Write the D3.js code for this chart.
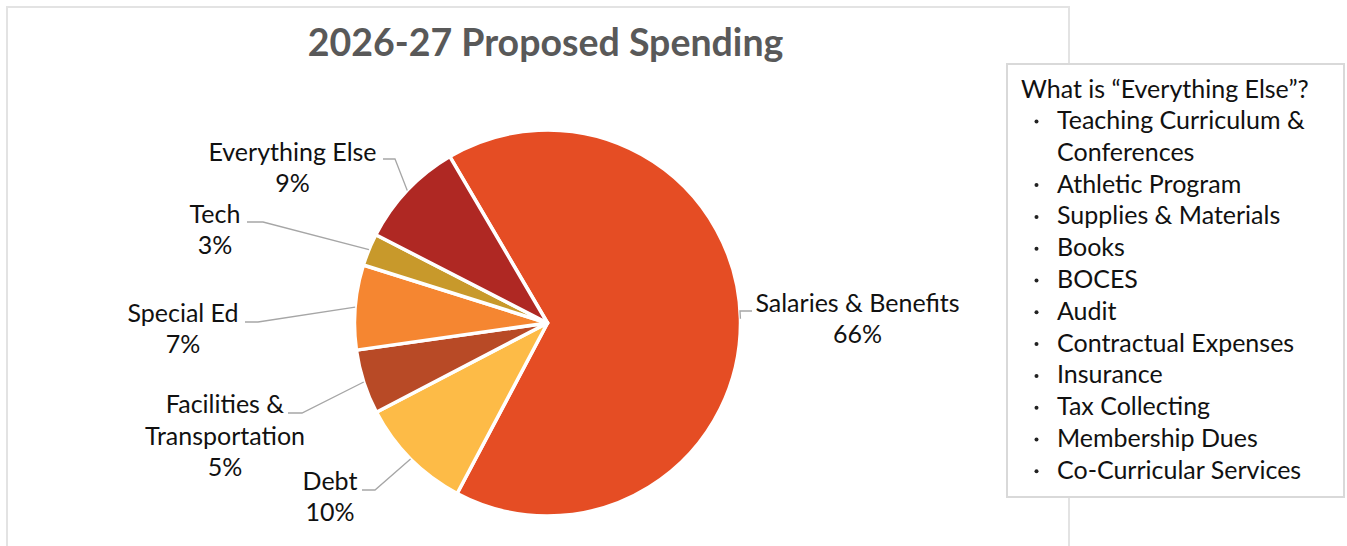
<!DOCTYPE html>
<html><head><meta charset="utf-8">
<script src="https://cdn.jsdelivr.net/npm/d3@7"></script>
<style>
body{margin:0;background:#fff}
svg{display:block}
text{font-family:Lato,"Open Sans",sans-serif}
</style>
</head><body>
<svg id="c" width="1347" height="546"></svg>
<script>
// ---- data ----
const categories = ["Salaries & Benefits","Debt","Facilities & Transportation","Special Ed","Tech","Everything Else"];
const values = [66.2, 9.6, 5.4, 7.1, 2.7, 9.0];
const labelLines = [["Salaries & Benefits"],["Debt"],["Facilities &","Transportation"],["Special Ed"],["Tech"],["Everything Else"]];
const colors = ["#E54D24","#FDBB47","#B84A26","#F58631","#C8992B","#AF2823"];
const chartTitle = "2026-27 Proposed Spending";
const legendTitle = "What is \u201CEverything Else\u201D?";
const legendItems = [["Teaching Curriculum &","Conferences"],["Athletic Program"],["Supplies & Materials"],["Books"],["BOCES"],["Audit"],["Contractual Expenses"],["Insurance"],["Tax Collecting"],["Membership Dues"],["Co-Curricular Services"]];

// ---- layout ----
const W = 1347, H = 546;
const cx = 547.5, cy = 323, R = 193;
const startDeg = -30.4;
const fontSize = 25, lineH = 31.4;
// label placement: text centre x, first baseline y, leader elbow and end
const labelLayout = [
  {tx:857.5, ty:311.7, elbow:[740,311], end:[752,311]},
  {tx:330,   ty:490,   elbow:[375,490], end:[362,490]},
  {tx:225,   ty:413.3, elbow:[302,413], end:[288,413]},
  {tx:183,   ty:321.7, elbow:[258,322], end:[245,322]},
  {tx:215,   ty:222.7, elbow:[263,222], end:[247,222]},
  {tx:292.5, ty:160.7, elbow:[395,159], end:[383,159]}
];

const svg = d3.select("#c");

// outer frame
svg.append("rect").attr("x",7).attr("y",7).attr("width",1062).attr("height",542)
  .attr("fill","none").attr("stroke","#E3E3E3").attr("stroke-width",2);

// title
svg.append("text").attr("x",545.5).attr("y",56).attr("text-anchor","middle")
  .attr("font-size",37.5).attr("font-weight","bold").attr("fill","#595959").text(chartTitle);

const data = categories.map((c,i)=>({name:c, value:values[i], color:colors[i], lines:labelLines[i], lay:labelLayout[i]}));
const start = startDeg*Math.PI/180;
const pie = d3.pie().value(d=>d.value).sort(null).startAngle(start).endAngle(start+2*Math.PI);
const arcs = pie(data);
const arc = d3.arc().innerRadius(0).outerRadius(R);
const g = svg.append("g").attr("transform",`translate(${cx},${cy})`);
g.selectAll("path.slice").data(arcs).join("path").attr("class","slice")
  .attr("d",arc).attr("fill",d=>d.data.color).attr("stroke","#fff").attr("stroke-width",3.5).attr("stroke-linejoin","round");

// leader lines
const edgePoint = a => { const m=(a.startAngle+a.endAngle)/2; return [cx+R*Math.sin(m), cy-R*Math.cos(m)]; };
svg.append("g").selectAll("polyline").data(arcs).join("polyline")
  .attr("points",d=>{const p=edgePoint(d); return [p,d.data.lay.elbow,d.data.lay.end].map(q=>q.join(",")).join(" ");})
  .attr("fill","none").attr("stroke","#A6A6A6").attr("stroke-width",1.3);

// labels
const lg = svg.append("g");
arcs.forEach(d=>{
  const t = lg.append("text").attr("text-anchor","middle").attr("font-size",fontSize).attr("fill","#111");
  const lines = d.data.lines.concat([Math.round(d.data.value)+"%"]);
  lines.forEach((s,i)=>t.append("tspan").attr("x",d.data.lay.tx).attr("y",d.data.lay.ty+i*lineH).text(s));
});

// legend box
svg.append("rect").attr("x",1007).attr("y",64).attr("width",337).attr("height",433)
  .attr("fill","#fff").attr("stroke","#D9D9D9").attr("stroke-width",2);
svg.append("text").attr("x",1021).attr("y",97.7).attr("font-size",fontSize).attr("fill","#111").text(legendTitle);
let row = 0;
const legG = svg.append("g");
legendItems.forEach(item=>{
  const y0 = 129 + row*31.8;
  legG.append("circle").attr("cx",1036.5).attr("cy",y0-7.5).attr("r",2).attr("fill","#222");
  item.forEach((s,j)=>{
    legG.append("text").attr("x",1057).attr("y",y0+j*31.8).attr("font-size",fontSize).attr("fill","#111").text(s);
  });
  row += item.length;
});
</script>
</body></html>
